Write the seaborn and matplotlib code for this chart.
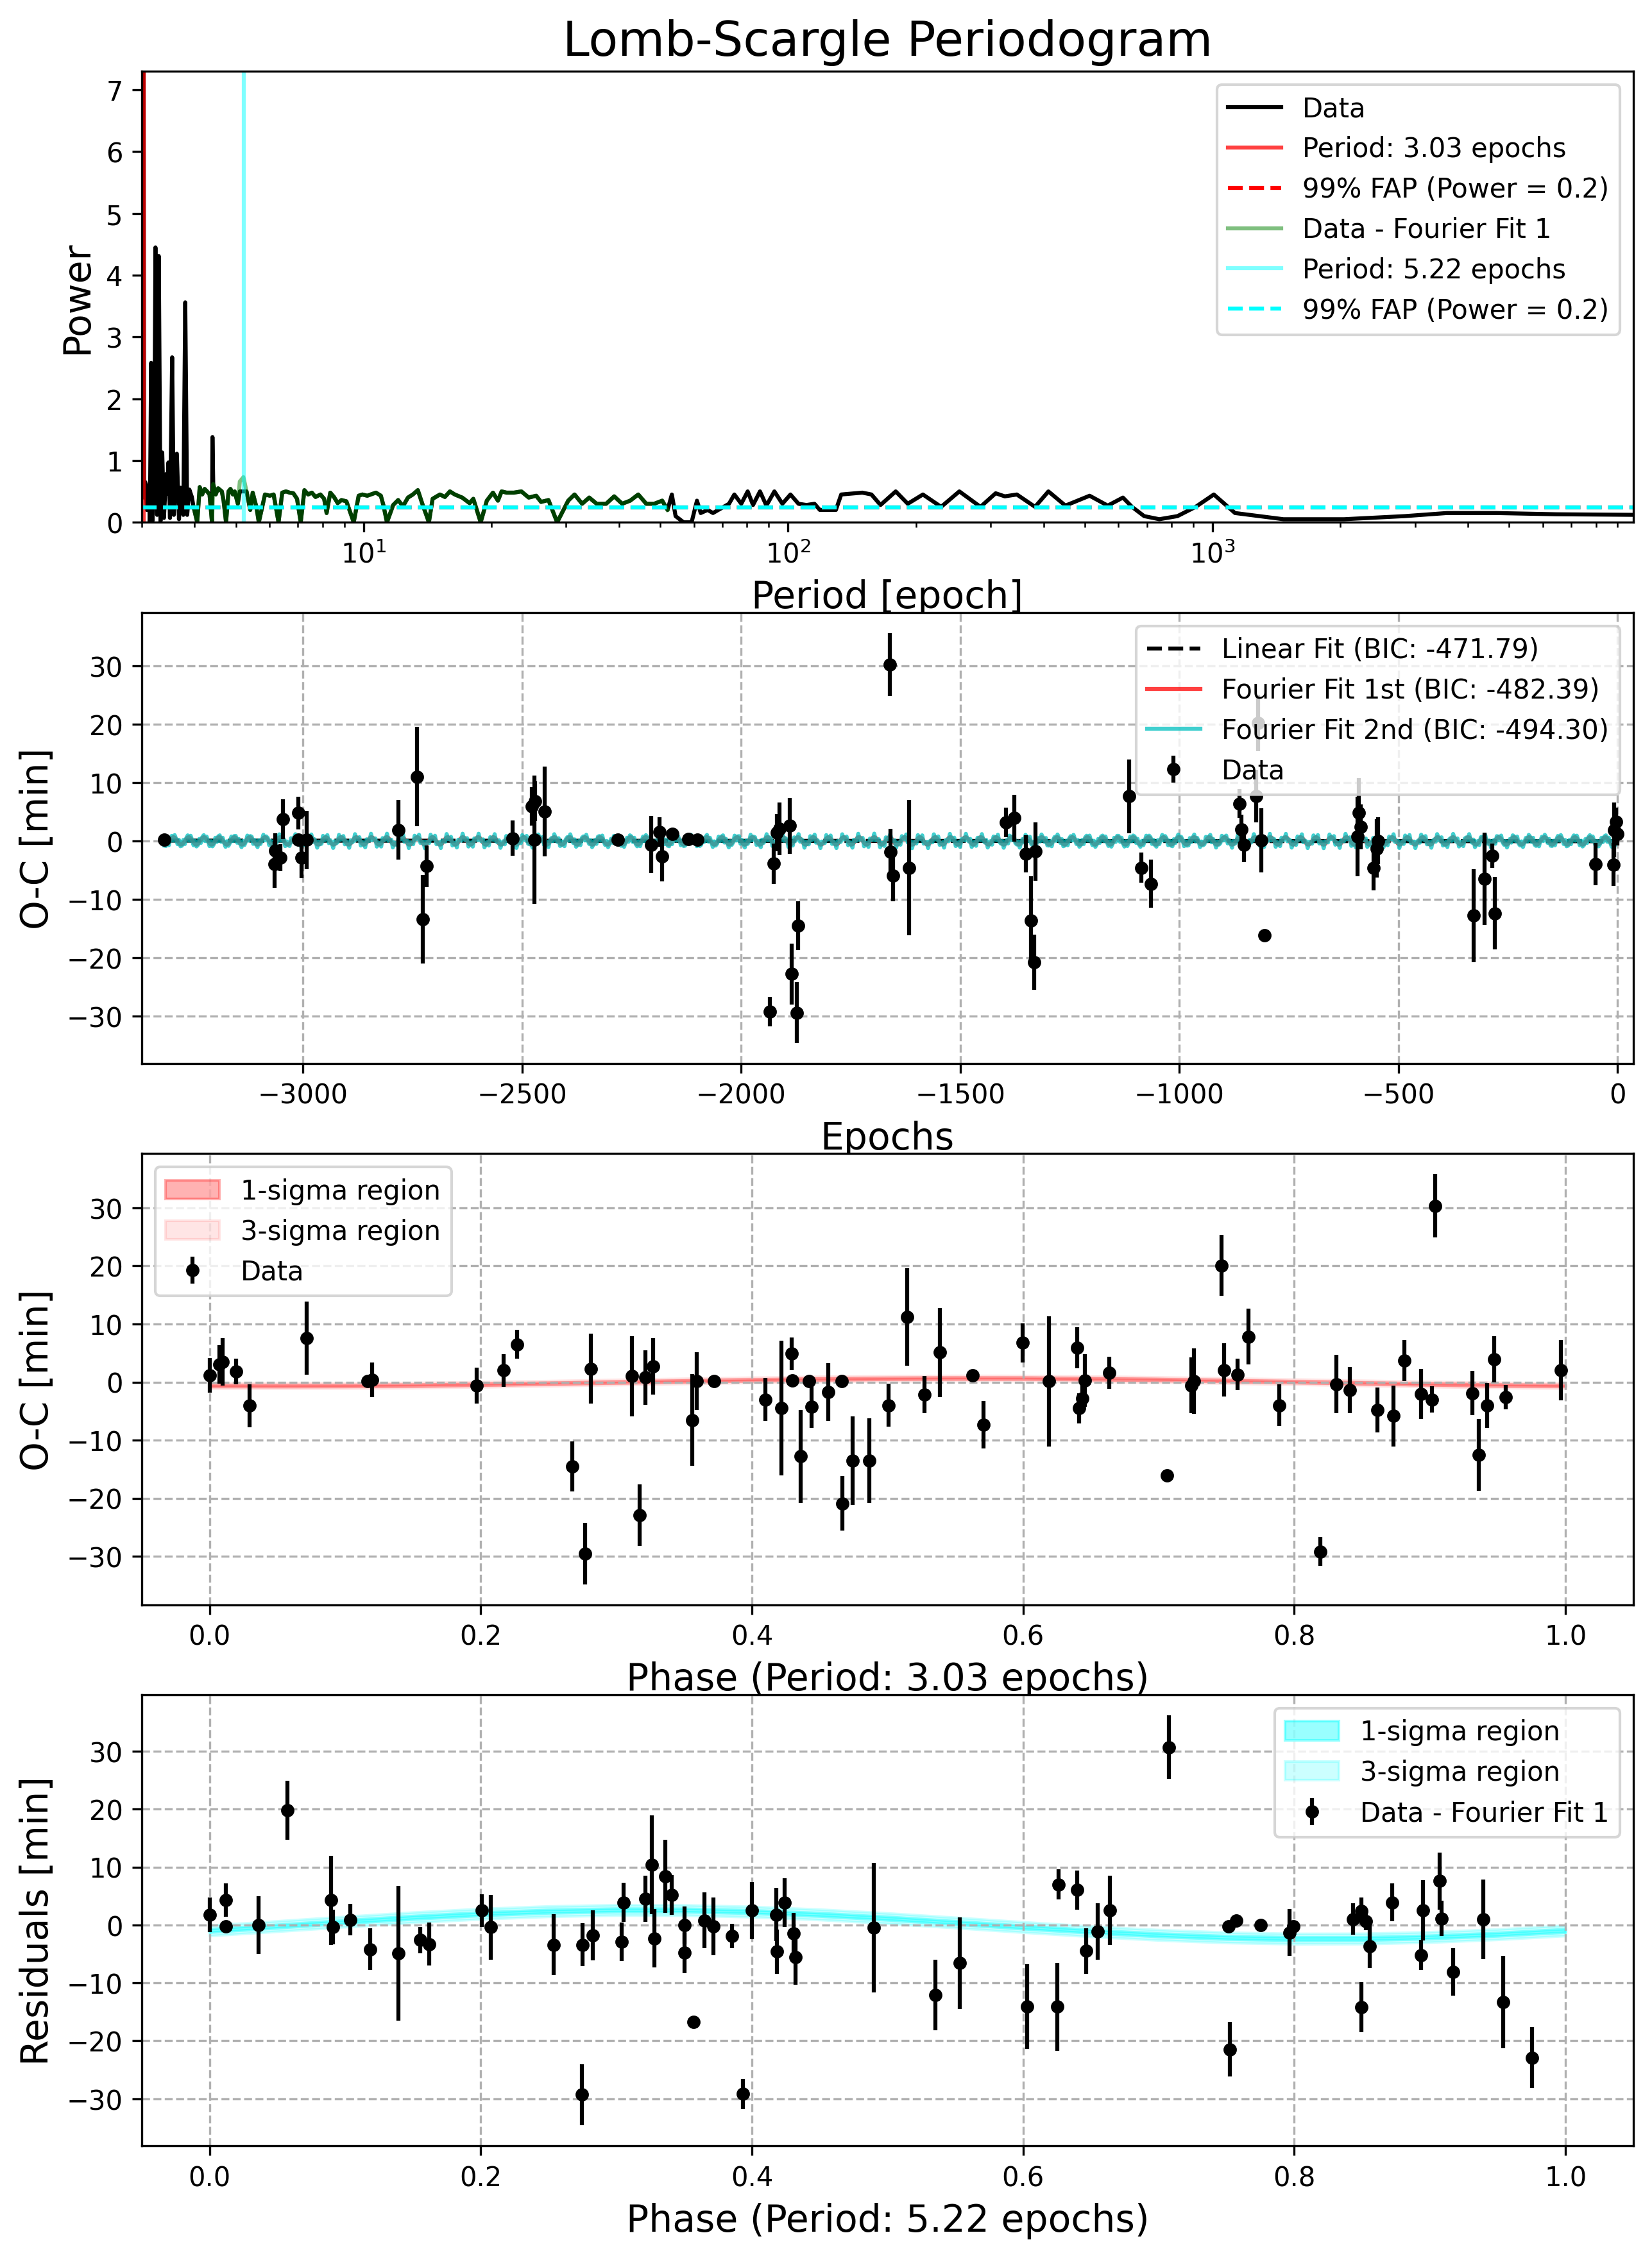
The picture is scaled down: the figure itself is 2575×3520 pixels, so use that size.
#!/usr/bin/env python3

import matplotlib
matplotlib.use("Agg")
import seaborn as sns
import matplotlib.pyplot as plt
import numpy as np


# Lomb-Scargle periodogram of the O-C data (period [epoch], power)
ls_period_low = [3.000, 3.022, 3.030, 3.040, 3.060, 3.086, 3.114, 3.136, 3.158, 3.180,
                 3.210, 3.233, 3.262, 3.292, 3.323, 3.354, 3.385, 3.425, 3.449, 3.469,
                 3.498, 3.539, 3.572, 3.631, 3.673, 3.709, 3.760, 3.800, 3.840, 3.885,
                 3.939]
ls_power_low = [0.45, 0.60, 9.00, 0.40, 0.65, 0.20, 0.60, 0.00, 2.58, 0.02,
                0.75, 4.45, 0.12, 4.31, 0.02, 1.13, 0.07, 0.78, 0.46, 0.97,
                0.07, 2.67, 0.12, 1.11, 0.05, 0.56, 0.12, 3.56, 0.12, 0.53,
                0.41]
ls_period_mid = [3.974, 4.055, 4.110, 4.165, 4.221, 4.278, 4.335, 4.393, 4.405, 4.423,
                 4.482, 4.543, 4.634, 4.678, 4.741, 4.805, 4.856, 4.921, 4.968, 5.054,
                 5.109, 5.21, 5.299, 5.406, 5.479, 5.589, 5.664, 5.856, 6.014, 6.137,
                 6.303, 6.431, 6.561, 6.694, 6.830, 6.968, 7.109, 7.253, 7.400, 7.551,
                 7.703, 7.912, 8.072, 8.181, 8.346, 8.515, 8.688, 8.866, 9.107, 9.478,
                 9.735, 9.931, 10.20, 10.69, 10.98, 11.13, 11.35, 11.74, 12.06, 12.38,
                 12.72, 13.06, 13.42, 13.78, 14.25, 14.54, 15.13, 15.54, 15.97, 16.40,
                 17.07, 17.77, 18.13, 18.87, 19.51, 20.17, 20.72, 21.14, 21.71, 22.60,
                 23.53, 24.49, 25.50, 26.18, 27.26, 28.57, 30.34, 31.4, 32.72, 34.0,
                 35.4, 37.28, 38.93, 40.66, 42.46, 44.36, 46.33, 48.38, 50.52, 52.01]
ls_power_mid = [0.25, 0.00, 0.57, 0.45, 0.54, 0.50, 0.45, 0.00, 1.38, 0.62,
                0.45, 0.55, 0.50, 0.35, 0.00, 0.50, 0.54, 0.45, 0.50, 0.30,
                0.50, 0.50, 0.50, 0.20, 0.48, 0.25, 0.00, 0.45, 0.43, 0.45,
                0.00, 0.48, 0.50, 0.48, 0.47, 0.38, 0.00, 0.52, 0.45, 0.48,
                0.41, 0.45, 0.38, 0.15, 0.48, 0.41, 0.31, 0.36, 0.34, 0.00,
                0.43, 0.45, 0.43, 0.48, 0.43, 0.28, 0.00, 0.28, 0.36, 0.26,
                0.40, 0.45, 0.52, 0.28, 0.00, 0.38, 0.45, 0.41, 0.50, 0.45,
                0.40, 0.31, 0.38, 0.00, 0.35, 0.48, 0.35, 0.50, 0.48, 0.48,
                0.50, 0.40, 0.43, 0.33, 0.36, 0.00, 0.35, 0.45, 0.30, 0.40,
                0.30, 0.30, 0.42, 0.30, 0.35, 0.45, 0.30, 0.30, 0.35, 0.20]
ls_period_high = [53.23, 54.32, 56.73, 59.25, 61.0, 62.25, 64.63, 66.53, 68.49, 70.50,
                  72.58, 74.71, 77.58, 80.32, 82.68, 85.86, 88.90, 92.84, 96.96, 101.3,
                  105.8, 110.5, 115.4, 118.8, 129.6, 133.4, 149.6, 157.2, 165.1, 179.3,
                  191.4, 207.8, 229.4, 253.2, 284.0, 308.3, 324.0, 345.9, 381.8, 410.5,
                  450.1, 513.3, 566.4, 615.0, 646.0, 690.0, 749.0, 826.7, 912.5, 1007,
                  1129.6, 1469, 2041, 2836, 3568, 4644, 6450, 10120]
ls_power_high = [0.45, 0.10, 0.00, 0.00, 0.35, 0.15, 0.20, 0.15, 0.20, 0.25,
                 0.30, 0.45, 0.30, 0.50, 0.28, 0.50, 0.27, 0.50, 0.30, 0.45,
                 0.30, 0.28, 0.30, 0.20, 0.20, 0.45, 0.48, 0.45, 0.28, 0.50,
                 0.30, 0.45, 0.25, 0.50, 0.25, 0.47, 0.42, 0.45, 0.25, 0.50,
                 0.27, 0.43, 0.27, 0.40, 0.25, 0.10, 0.05, 0.10, 0.25, 0.45,
                 0.15, 0.05, 0.05, 0.10, 0.15, 0.15, 0.13, 0.12]

# periodogram of the residuals (data - Fourier fit 1)
res_period = [3.974, 4.055, 4.110, 4.165, 4.221, 4.278, 4.335, 4.393, 4.423,
              4.482, 4.543, 4.634, 4.678, 4.741, 4.805, 4.856, 4.921, 4.968, 5.054,
              5.109, 5.21, 5.299, 5.406, 5.479, 5.589, 5.664, 5.856, 6.014, 6.137,
              6.303, 6.431, 6.561, 6.694, 6.830, 6.968, 7.109, 7.253, 7.400, 7.551,
              7.703, 7.912, 8.072, 8.181, 8.346, 8.515, 8.688, 8.866, 9.107, 9.478,
              9.735, 9.931, 10.20, 10.69, 10.98, 11.13, 11.35, 11.74, 12.06, 12.38,
              12.72, 13.06, 13.42, 13.78, 14.25, 14.54, 15.13, 15.54, 15.97, 16.40,
              17.07, 17.77, 18.13, 18.87, 19.51, 20.17, 20.72, 21.14, 21.71, 22.60,
              23.53, 24.49, 25.50, 26.18, 27.26, 28.57, 30.34, 31.4, 32.72, 34.0,
              35.4, 37.28, 38.93, 40.66, 42.46, 44.36, 46.33, 48.38, 50.52, 52.01]
res_power = [0.25, 0.00, 0.57, 0.45, 0.54, 0.50, 0.45, 0.00, 0.62,
             0.45, 0.55, 0.50, 0.35, 0.00, 0.50, 0.54, 0.45, 0.50, 0.30,
             0.66, 0.73, 0.50, 0.20, 0.48, 0.25, 0.00, 0.45, 0.43, 0.45,
             0.00, 0.48, 0.50, 0.48, 0.47, 0.38, 0.00, 0.52, 0.45, 0.48,
             0.41, 0.45, 0.38, 0.15, 0.48, 0.41, 0.31, 0.36, 0.34, 0.00,
             0.43, 0.45, 0.43, 0.48, 0.43, 0.28, 0.00, 0.28, 0.36, 0.26,
             0.40, 0.45, 0.52, 0.28, 0.00, 0.38, 0.45, 0.41, 0.50, 0.45,
             0.40, 0.31, 0.38, 0.00, 0.35, 0.48, 0.35, 0.50, 0.48, 0.48,
             0.50, 0.40, 0.43, 0.33, 0.36, 0.00, 0.35, 0.45, 0.30, 0.40,
             0.30, 0.30, 0.42, 0.30, 0.35, 0.45, 0.30, 0.30, 0.35, 0.20]

period1 = 3.03
period2 = 5.22
fap1 = 0.24
fap2 = 0.24

# O-C data: epoch, O-C [min], error [min]
epochs = [-3316, -3065, -3063, -3052, -3046, -3010, -3010, -3003, -2991, -2782,
          -2739, -2726, -2717, -2522, -2478, -2472, -2470, -2448, -2281, -2205,
          -2186, -2181, -2157, -2121, -2100, -1935, -1926, -1918, -1913, -1889,
          -1884, -1873, -1870, -1661, -1659, -1654, -1617, -1395, -1376, -1350,
          -1339, -1331, -1328, -1115, -1087, -1065, -862, -859, -853, -820,
          -824, -813, -806, -593, -590, -586, -556, -549, -546, -329,
          -304, -286, -280, -50, -9, -8, -3, 0]
oc = [0.2, -4.0, -1.7, -2.9, 3.7, 4.8, 0.2, -2.9, 0.2, 1.9,
      11.0, -13.4, -4.35, 0.45, 5.9, 0.2, 6.8, 5.0, 0.25, -0.65,
      1.55, -2.7, 1.25, 0.35, 0.25, -29.2, -3.9, 1.4, 2.1, 2.6,
      -22.8, -29.4, -14.5, 30.2, -1.9, -5.9, -4.6, 3.2, 3.9, -2.2,
      -13.6, -20.8, -1.8, 7.65, -4.6, -7.35, 6.4, 2.0, -0.65, 20.2,
      7.7, 0.1, -16.2, 0.8, 4.8, 2.4, -4.6, -1.3, 0.0, -12.8,
      -6.5, -2.5, -12.4, -3.95, -4.05, 1.9, 3.25, 1.2]
oc_err = [0.3, 4.0, 3.0, 2.3, 3.4, 2.8, 0.4, 3.5, 5.0, 5.1,
          8.5, 7.6, 3.6, 3.0, 3.3, 11.0, 3.4, 7.7, 0.4, 4.9,
          2.5, 4.2, 0.4, 0.4, 0.4, 2.5, 3.5, 3.2, 4.5, 4.8,
          5.2, 5.2, 4.2, 5.4, 4.0, 4.4, 11.6, 2.5, 4.0, 3.2,
          7.5, 4.7, 5.0, 6.3, 2.6, 4.1, 2.5, 2.5, 3.0, 4.8,
          4.5, 5.5, 0.5, 6.8, 6.0, 3.8, 3.9, 5.0, 4.0, 8.0,
          7.9, 2.1, 6.2, 3.6, 3.7, 4.7, 2.5, 2.0]

# fits against epoch
linear_epochs = [-3316, 0]
linear_oc = [0.05, -0.05]
fit1_amp = 0.65
fit1_phi = 0.3
fit2_amp = 0.6
fit2_phi = 1.1

# O-C folded on period 1
phase1 = [0.000, 0.0071, 0.0096, 0.0196, 0.0295, 0.0719, 0.1164, 0.120, 0.197, 0.2167,
          0.2267, 0.2676, 0.2772, 0.2811, 0.3114, 0.3174, 0.3214, 0.327, 0.3559, 0.3594,
          0.3719, 0.41, 0.4217, 0.4295, 0.430, 0.436, 0.4423, 0.4441, 0.4562, 0.4665,
          0.4662, 0.4744, 0.4865, 0.5007, 0.5145, 0.5271, 0.5387, 0.5628, 0.5708, 0.5996,
          0.6191, 0.6397, 0.6415, 0.6437, 0.6455, 0.6635, 0.706, 0.7241, 0.7259, 0.7465,
          0.7483, 0.758, 0.7663, 0.7887, 0.819, 0.8312, 0.841, 0.8612, 0.8731, 0.8814,
          0.8937, 0.9013, 0.9037, 0.9315, 0.9359, 0.942, 0.9474, 0.9561, 0.9965]
oc1 = [1.17, 3.0, 3.5, 1.8, -4.05, 7.6, 0.15, 0.4, -0.6, 2.0,
       6.5, -14.5, -29.5, 2.3, 1.0, -22.9, 0.8, 2.7, -6.55, 0.15,
       0.2, -3.0, -4.5, 4.9, 0.3, -12.8, 0.2, -4.3, -1.7, -20.9,
       0.2, -13.5, -13.5, -4.0, 11.2, -2.2, 5.1, 1.2, -7.35, 6.75,
       0.15, 5.9, -4.5, -2.8, 0.3, 1.6, -16.1, -0.6, 0.15, 20.1,
       2.1, 1.3, 7.8, -4.0, -29.2, -0.35, -1.4, -4.8, -5.85, 3.7,
       -2.0, -3.0, 30.35, -1.9, -12.55, -4.05, 3.95, -2.55, 2.0]
oc1_err = [2.95, 3.3, 4.1, 2.2, 3.7, 6.3, 0.4, 3.0, 3.1, 2.8,
           2.5, 4.3, 5.3, 6.0, 6.9, 5.3, 4.7, 4.9, 7.9, 5.0,
           0.4, 3.7, 11.6, 2.8, 0.4, 8.0, 0.4, 3.6, 5.0, 4.7,
           0.4, 7.6, 7.3, 3.7, 8.4, 3.2, 7.7, 0.4, 4.1, 3.4,
           11.2, 3.5, 2.6, 2.5, 4.5, 2.8, 0.5, 4.8, 5.6, 5.2,
           4.6, 2.7, 4.8, 3.6, 2.5, 5.0, 4.0, 3.9, 5.2, 3.5,
           4.3, 2.3, 5.45, 3.8, 6.2, 3.9, 4.0, 2.1, 5.2]

fit_phase = [0.00, 0.05, 0.10, 0.15, 0.20, 0.25, 0.30, 0.35, 0.40, 0.45, 0.50,
             0.55, 0.60, 0.65, 0.70, 0.75, 0.80, 0.85, 0.90, 0.95, 1.00]
fit1_curve = [-0.62, -0.64, -0.62, -0.55, -0.40, -0.22, -0.02, 0.18, 0.36, 0.52, 0.62,
              0.67, 0.66, 0.56, 0.42, 0.24, 0.05, -0.16, -0.36, -0.52, -0.62]
fit1_sigma = 0.15

# residuals folded on period 2
phase2 = [0.000, 0.0121, 0.0121, 0.0363, 0.0573, 0.0897, 0.0911, 0.1039, 0.1185, 0.1395,
          0.1555, 0.1619, 0.2007, 0.2075, 0.2537, 0.2747, 0.2751, 0.2826, 0.3039, 0.3053,
          0.3214, 0.326, 0.3281, 0.336, 0.3409, 0.3502, 0.3502, 0.3569, 0.3648, 0.3715,
          0.3854, 0.3936, 0.4000, 0.4178, 0.4185, 0.4242, 0.4306, 0.4324, 0.4900, 0.5354,
          0.5535, 0.6032, 0.6253, 0.626, 0.640, 0.6465, 0.6548, 0.6642, 0.7075, 0.7515,
          0.7526, 0.7573, 0.7753, 0.7966, 0.7995, 0.8431, 0.8496, 0.8496, 0.8529, 0.8558,
          0.872, 0.8933, 0.8947, 0.9074, 0.9088, 0.9171, 0.9395, 0.9542, 0.9752]
resid2 = [1.8, 4.3, -0.25, 0.0, 19.8, 4.3, -0.35, 0.9, -4.2, -4.9,
          -2.6, -3.3, 2.5, -0.4, -3.4, -29.3, -3.4, -1.8, -2.9, 3.9,
          4.5, 10.4, -2.3, 8.4, 5.2, 0.0, -4.8, -16.7, 0.8, -0.25,
          -1.9, -29.2, 2.5, 1.8, -4.6, 3.9, -1.4, -5.6, -0.5, -12.05,
          -6.6, -14.1, -14.1, 7.0, 6.05, -4.5, -1.1, 2.55, 30.7, -0.25,
          -21.45, 0.75, 0.0, -1.3, -0.25, 1.0, 2.45, -14.2, 0.65, -3.65,
          3.9, -5.2, 2.55, 7.6, 1.1, -8.1, 1.0, -13.3, -22.9]
resid2_err = [3.0, 2.9, 0.4, 5.0, 5.1, 7.7, 3.0, 2.7, 3.6, 11.6,
              2.3, 3.7, 2.85, 5.6, 5.3, 5.3, 3.7, 4.3, 3.3, 3.4,
              4.0, 8.5, 5.0, 6.3, 3.4, 3.2, 3.5, 0.5, 4.8, 5.0,
              2.1, 2.6, 4.9, 4.6, 3.8, 4.2, 3.5, 4.7, 11.2, 6.1,
              7.9, 7.3, 7.6, 2.6, 3.4, 3.9, 4.85, 6.0, 5.5, 0.4,
              4.7, 0.4, 0.4, 4.0, 0.8, 2.7, 2.3, 4.3, 1.5, 3.8,
              3.3, 2.6, 5.2, 4.95, 3.05, 4.1, 6.9, 8.0, 5.3]

fit2_curve = [-0.96, -0.21, 0.57, 1.30, 1.92, 2.36, 2.58, 2.56, 2.29, 1.81, 1.16,
              0.41, -0.37, -1.10, -1.72, -2.16, -2.38, -2.36, -2.09, -1.61, -0.96]
fit2_sigma = 0.3


def ShowPeriodogram(ax):
    ls_period = ls_period_low + ls_period_mid + ls_period_high
    ls_power = ls_power_low + ls_power_mid + ls_power_high

    sns.lineplot(x=ls_period, y=ls_power, ax=ax, color="black", label="Data",
                 estimator=None, sort=False)
    ax.axvline(period1, color="red", alpha=0.75, label=f"Period: {period1:.2f} epochs")
    ax.axhline(fap1, color="red", linestyle="--", label="99% FAP (Power = 0.2)")
    sns.lineplot(x=res_period, y=res_power, ax=ax, color="green", alpha=0.5,
                 label="Data - Fourier Fit 1", estimator=None, sort=False)
    ax.axvline(period2, color="cyan", alpha=0.5, label=f"Period: {period2:.2f} epochs")
    ax.axhline(fap2, color="cyan", linestyle="--", label="99% FAP (Power = 0.2)")

    ax.set_xscale("log")
    ax.set_xlim(3.0, 9800)
    ax.set_ylim(0, 7.3)
    ax.set_title("Lomb-Scargle Periodogram", fontsize=18)
    ax.set_xlabel("Period [epoch]", fontsize=14)
    ax.set_ylabel("Power", fontsize=14)
    ax.legend(loc="upper right")


def ShowOC(ax):
    # dense grid for the fitted models
    t = np.linspace(min(epochs), max(epochs), 1000)
    f1 = fit1_amp * np.sin(2 * np.pi * t / period1 + fit1_phi)
    f2 = f1 + fit2_amp * np.sin(2 * np.pi * t / period2 + fit2_phi)

    sns.lineplot(x=linear_epochs, y=linear_oc, ax=ax, color="black", linestyle="--",
                 label="Linear Fit (BIC: -471.79)", estimator=None)
    sns.lineplot(x=t, y=f1, ax=ax, color="r", alpha=0.75,
                 label="Fourier Fit 1st (BIC: -482.39)", estimator=None, sort=False)
    sns.lineplot(x=t, y=f2, ax=ax, color="c", alpha=0.75,
                 label="Fourier Fit 2nd (BIC: -494.30)", estimator=None, sort=False)
    ax.errorbar(epochs, oc, yerr=oc_err, fmt="o", color="black", markersize=4, label="Data")

    ax.set_xlim(-3368, 36)
    ax.grid(True, linestyle="--")
    ax.set_xlabel("Epochs", fontsize=14)
    ax.set_ylabel("O-C [min]", fontsize=14)
    ax.legend(loc="upper right")


def ShowPhase(ax, phase, values, errors, curve, sigma, color, a1, a3, label, period, ylabel, loc):
    curve = np.array(curve)
    ax.fill_between(fit_phase, curve - sigma, curve + sigma, color=color, alpha=a1,
                    label="1-sigma region")
    ax.fill_between(fit_phase, curve - 3 * sigma, curve + 3 * sigma, color=color, alpha=a3,
                    label="3-sigma region")
    ax.errorbar(phase, values, yerr=errors, fmt="o", color="black", markersize=4, label=label)

    ax.grid(True, linestyle="--")
    ax.set_xlabel(f"Phase (Period: {period:.2f} epochs)", fontsize=14)
    ax.set_ylabel(ylabel, fontsize=14)
    ax.legend(loc=loc)


if __name__ == "__main__":
    fig, axes = plt.subplots(4, 1, figsize=(10, 14))

    ShowPeriodogram(axes[0])
    ShowOC(axes[1])
    ShowPhase(axes[2], phase1, oc1, oc1_err, fit1_curve, fit1_sigma, "red", 0.3, 0.1,
              "Data", period1, "O-C [min]", "upper left")
    ShowPhase(axes[3], phase2, resid2, resid2_err, fit2_curve, fit2_sigma, "cyan", 0.4, 0.2,
              "Data - Fourier Fit 1", period2, "Residuals [min]", "upper right")

    plt.savefig("out.png", dpi=300, bbox_inches="tight")
